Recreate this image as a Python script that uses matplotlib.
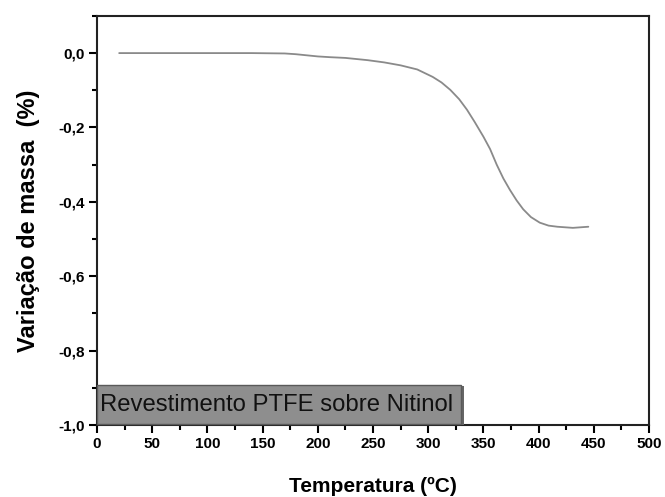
import matplotlib
matplotlib.use('Agg')
import matplotlib.pyplot as plt
from matplotlib.ticker import MultipleLocator, FuncFormatter
from matplotlib.patches import Rectangle

plt.rcParams['font.family'] = ['Liberation Sans', 'DejaVu Sans']

# dados (TGA)
temperatura = [20, 60, 100, 140, 170, 180, 190, 200, 211, 225, 245, 260,
               275, 290, 304, 312, 320, 328, 335, 342, 350, 356, 362, 368,
               374, 380, 386, 393, 401, 409, 417, 431, 445]
variacao = [0.0, 0.0, 0.0, 0.0, -0.001, -0.003, -0.006, -0.009, -0.011,
            -0.013, -0.019, -0.025, -0.033, -0.044, -0.064, -0.079, -0.099,
            -0.124, -0.152, -0.185, -0.225, -0.258, -0.300, -0.337, -0.368,
            -0.396, -0.420, -0.441, -0.456, -0.464, -0.467, -0.470, -0.467]

xticks = [0, 50, 100, 150, 200, 250, 300, 350, 400, 450, 500]
yticks = [0.0, -0.2, -0.4, -0.6, -0.8, -1.0]
rotulo = 'Revestimento PTFE sobre Nitinol'

fig = plt.figure(figsize=(6.65, 4.97), dpi=100)
ax = fig.add_axes([0.146, 0.145, 0.830, 0.823])

ax.plot(temperatura, variacao, color='#8a8a8a', lw=1.3,
        solid_joinstyle='round', solid_capstyle='round')

ax.set_xlim(0, 500)
ax.set_ylim(-1.0, 0.1)
ax.set_xticks(xticks)
ax.set_yticks(yticks)
ax.xaxis.set_minor_locator(MultipleLocator(25))
ax.yaxis.set_minor_locator(MultipleLocator(0.1))
ax.yaxis.set_major_formatter(FuncFormatter(lambda v, p: f'{v:.1f}'.replace('.', ',')))
ax.tick_params(which='major', direction='out', length=6, width=1.5,
               labelsize=11, pad=3, top=False, right=False)
ax.tick_params(which='minor', direction='out', length=3.5, width=1.5,
               top=False, right=False)
for lab in ax.get_xticklabels() + ax.get_yticklabels():
    lab.set_fontweight('bold')
for s in ax.spines.values():
    s.set_linewidth(1.5)
    s.set_color('#222222')

ax.set_xlabel('Temperatura (ºC)', fontsize=15, fontweight='bold', labelpad=18)
ax.set_ylabel('Variação de massa  (%)', fontsize=17, fontweight='bold', labelpad=13)

# caixa com o nome da amostra (com sombra)
ax.add_patch(Rectangle((1.5, -1.0), 331, 0.106, facecolor='#666666',
                       edgecolor='none', zorder=3, clip_on=False))
ax.add_patch(Rectangle((0, -0.997), 329.5, 0.105, facecolor='#8e8e8e',
                       edgecolor='#5a5a5a', lw=1, zorder=4, clip_on=False))
ax.text(3, -0.946, rotulo, ha='left', va='center', fontsize=17.2,
        color='#111111', zorder=5)

fig.savefig('out.png', dpi=100)
